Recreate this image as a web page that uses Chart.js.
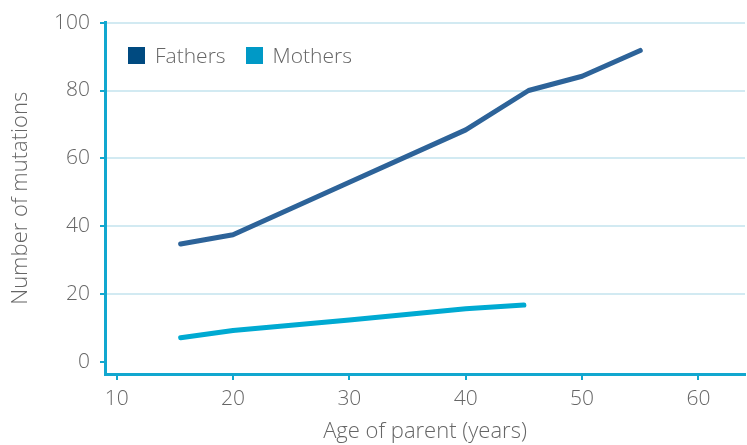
<!DOCTYPE html>
<html>
<head>
<meta charset="utf-8">
<script src="https://cdn.jsdelivr.net/npm/chart.js@4"></script>
<style>
  html, body { margin: 0; padding: 0; background: #fff; }
  #wrap { position: relative; width: 747px; height: 445px; }
  #legend { position: absolute; left: 128px; top: 41px; font-family: "Open Sans", sans-serif; font-weight: 300; font-size: 21px; color: #666; display: flex; align-items: center; }
  #legend span.box { display: inline-block; width: 17px; height: 17px; margin-right: 10px; }
  #legend span.item { display: flex; align-items: center; margin-right: 20px; }
</style>
</head>
<body>
<div id="wrap">
  <canvas id="myChart" width="747" height="445"></canvas>
  <div id="legend">
    <span class="item"><span class="box" style="background:#004a80"></span>Fathers</span>
    <span class="item"><span class="box" style="background:#0099c6"></span>Mothers</span>
  </div>
</div>
<script>
var fatherAges = [15.5, 20, 30, 40, 45.4, 50, 55];
var fatherMutations = [34.8, 37.5, 53, 68.4, 80, 84.2, 91.8];
var motherAges = [15.5, 20, 30, 40, 45];
var motherMutations = [7.2, 9.3, 12.4, 15.7, 16.8];
var yTicks = [0, 20, 40, 60, 80, 100];
var xTicks = [10, 20, 30, 40, 50, 60];

var axisColor = "#12a7cf";
var gridColor = "#d2eaf2";
var textColor = "#666";

function toPoints(xs, ys) {
    return xs.map(function (x, i) { return { x: x, y: ys[i] }; });
}

Chart.defaults.font.family = "'Open Sans', sans-serif";
Chart.defaults.font.weight = 300;

new Chart("myChart", {
    type: "line",
    data: {
        datasets: [{
            label: "Fathers",
            data: toPoints(fatherAges, fatherMutations),
            borderColor: "#2d6399",
            borderWidth: 5,
            borderCapStyle: "round",
            borderJoinStyle: "round",
            pointRadius: 0,
            tension: 0
        }, {
            label: "Mothers",
            data: toPoints(motherAges, motherMutations),
            borderColor: "#00aad2",
            borderWidth: 5,
            borderCapStyle: "round",
            borderJoinStyle: "round",
            pointRadius: 0,
            tension: 0
        }]
    },
    options: {
        responsive: false,
        animation: false,
        layout: { padding: { top: 12, right: 2, left: 8, bottom: 0 } },
        plugins: {
            legend: { display: false },
            tooltip: { enabled: false }
        },
        scales: {
            x: {
                type: "linear",
                min: 9,
                max: 64,
                afterBuildTicks: function (scale) {
                    scale.ticks = xTicks.map(function (v) { return { value: v }; });
                },
                afterFit: function (scale) { scale.height = 71; },
                border: { color: axisColor, width: 3 },
                grid: { drawOnChartArea: false, color: axisColor, tickLength: 6, lineWidth: 2 },
                ticks: { color: textColor, font: { size: 21 }, padding: 6, maxRotation: 0 },
                title: { display: true, text: "Age of parent (years)", color: textColor, font: { size: 22 }, padding: { top: 0, bottom: 0 } }
            },
            y: {
                min: -3.5,
                max: 100,
                afterBuildTicks: function (scale) {
                    scale.ticks = yTicks.map(function (v) { return { value: v }; });
                },
                afterFit: function (scale) { scale.width = 97; },
                border: { color: axisColor, width: 3 },
                grid: {
                    color: function (ctx) { return ctx.tick && ctx.tick.value === 0 ? "rgba(0,0,0,0)" : gridColor; },
                    tickColor: axisColor,
                    lineWidth: 2,
                    tickLength: 5
                },
                ticks: { color: textColor, font: { size: 21 }, padding: 10 },
                title: { display: true, text: "Number of mutations", color: textColor, font: { size: 22 }, padding: { top: 0, bottom: 0 } }
            }
        }
    }
});
</script>
</body>
</html>
